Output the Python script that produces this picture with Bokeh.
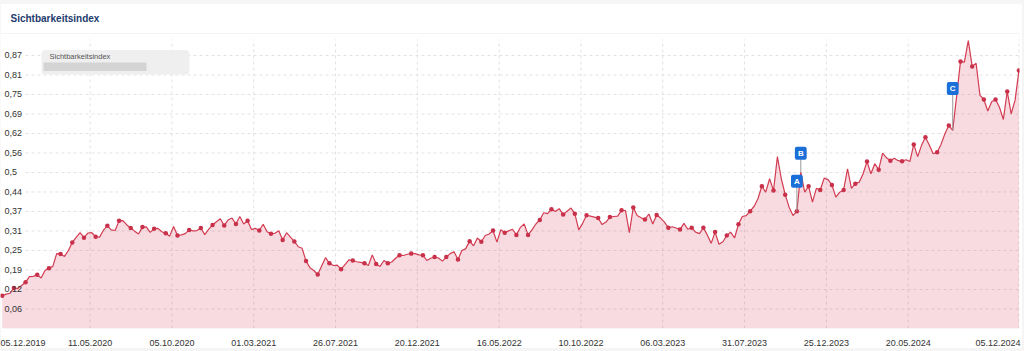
import pandas as pd
from bokeh.plotting import figure
from bokeh.models import Range1d, FixedTicker, ColumnDataSource, Span, BoxAnnotation, Label
from bokeh.layouts import column
from bokeh.core.properties import value
from bokeh.embed import file_html
from bokeh.resources import INLINE

FONT = "Liberation Sans"

# ---------------- data ----------------
title_text = "Sichtbarkeitsindex"
legend_text = "Sichtbarkeitsindex"
first_date = "2019-12-05"
visibility = [
    0.105, 0.110, 0.113, 0.130, 0.128, 0.138, 0.148, 0.166, 0.167, 0.172,
    0.162, 0.186, 0.193, 0.199, 0.240, 0.239, 0.231, 0.250, 0.276, 0.292,
    0.307, 0.291, 0.306, 0.307, 0.294, 0.293, 0.315, 0.329, 0.316, 0.314,
    0.345, 0.346, 0.332, 0.322, 0.312, 0.303, 0.325, 0.326, 0.308, 0.320,
    0.321, 0.310, 0.305, 0.296, 0.327, 0.298, 0.300, 0.304, 0.316, 0.313,
    0.314, 0.322, 0.301, 0.318, 0.332, 0.342, 0.352, 0.330, 0.348, 0.354,
    0.335, 0.359, 0.335, 0.345, 0.317, 0.321, 0.314, 0.334, 0.310, 0.304,
    0.305, 0.313, 0.284, 0.307, 0.293, 0.279, 0.262, 0.257, 0.216, 0.195,
    0.186, 0.173, 0.200, 0.227, 0.209, 0.202, 0.203, 0.190, 0.205, 0.220,
    0.218, 0.214, 0.212, 0.209, 0.202, 0.236, 0.207, 0.199, 0.218, 0.209,
    0.213, 0.225, 0.235, 0.234, 0.238, 0.240, 0.240, 0.236, 0.235, 0.218,
    0.225, 0.229, 0.226, 0.216, 0.229, 0.240, 0.246, 0.221, 0.250, 0.256,
    0.280, 0.265, 0.290, 0.278, 0.298, 0.303, 0.314, 0.277, 0.317, 0.307,
    0.313, 0.318, 0.300, 0.324, 0.335, 0.300, 0.316, 0.335, 0.348, 0.371,
    0.368, 0.382, 0.375, 0.384, 0.365, 0.376, 0.386, 0.368, 0.316, 0.337,
    0.363, 0.360, 0.357, 0.354, 0.333, 0.341, 0.357, 0.359, 0.360, 0.379,
    0.378, 0.307, 0.388, 0.362, 0.355, 0.349, 0.367, 0.335, 0.364, 0.354,
    0.341, 0.323, 0.326, 0.322, 0.317, 0.337, 0.318, 0.323, 0.309, 0.304,
    0.323, 0.300, 0.273, 0.309, 0.270, 0.278, 0.298, 0.309, 0.290, 0.334,
    0.359, 0.362, 0.376, 0.391, 0.416, 0.456, 0.437, 0.480, 0.442, 0.551,
    0.480, 0.429, 0.389, 0.362, 0.376, 0.501, 0.437, 0.456, 0.405, 0.449,
    0.444, 0.482, 0.477, 0.460, 0.421, 0.437, 0.444, 0.512, 0.449, 0.464,
    0.469, 0.496, 0.535, 0.496, 0.528, 0.509, 0.562, 0.547, 0.538, 0.546,
    0.538, 0.536, 0.541, 0.535, 0.590, 0.551, 0.587, 0.613, 0.587, 0.560,
    0.565, 0.590, 0.624, 0.651, 0.635, 0.744, 0.856, 0.854, 0.923, 0.840,
    0.850, 0.747, 0.734, 0.697, 0.727, 0.734, 0.709, 0.670, 0.760, 0.688,
    0.731, 0.827,
]
tick_dates = ["2019-12-05", "2020-05-11", "2020-10-05", "2021-03-01", "2021-07-26",
              "2021-12-20", "2022-05-16", "2022-10-10", "2023-03-06", "2023-07-31",
              "2023-12-25", "2024-05-20", "2024-12-05"]
tick_labels = ["05.12.2019", "11.05.2020", "05.10.2020", "01.03.2021", "26.07.2021",
               "20.12.2021", "16.05.2022", "10.10.2022", "06.03.2023", "31.07.2023",
               "25.12.2023", "20.05.2024", "05.12.2024"]
y_ticks = [0.0625, 0.125, 0.1875, 0.25, 0.3125, 0.375, 0.4375, 0.5,
           0.5625, 0.625, 0.6875, 0.75, 0.8125, 0.875]
y_labels = ["0,06", "0,12", "0,19", "0,25", "0,31", "0,37", "0,44", "0,5",
            "0,56", "0,62", "0,69", "0,75", "0,81", "0,87"]
flag_labels = ["A", "B", "C"]
flag_index = [204, 205, 244]
flag_lift_px = [30, 19, 42]

# ---------------- layout constants ----------------
W, H = 1022, 345
BORDER_TOP, BORDER_BOTTOM, BORDER_RIGHT = 30, 20, 3
FRAME_W = W - BORDER_RIGHT
FRAME_H = H - BORDER_TOP - BORDER_BOTTOM
Y_TOP = 0.9455
PX_PER_UNIT = FRAME_H / Y_TOP

def ms(d):
    return int(pd.Timestamp(d).value // 10**6)

dates = pd.date_range(first_date, periods=len(visibility), freq="7D")
x_start = ms(dates[0] - pd.Timedelta(days=3))
x_end = ms(dates[-1] + pd.Timedelta(days=1))
px_ms = (x_end - x_start) / FRAME_W

src = ColumnDataSource(dict(x=dates, y=visibility))
dots = ColumnDataSource(dict(x=dates[::3], y=visibility[::3]))

p = figure(width=W, height=H, x_axis_type="datetime", y_axis_location=None,
           x_range=Range1d(x_start, x_end), y_range=Range1d(0, Y_TOP),
           output_backend="svg", toolbar_location=None,
           min_border_left=0, min_border_right=BORDER_RIGHT,
           min_border_top=BORDER_TOP, min_border_bottom=BORDER_BOTTOM,
           background_fill_color="white", border_fill_color="white",
           outline_line_color=None)
p.margin = (3, 2, 3, 0)

p.title.text = title_text
p.title.text_font = FONT
p.title.text_font_size = "10px"
p.title.text_font_style = "bold"
p.title.text_color = "#1d3b6d"
p.title.offset = 10
p.title.vertical_align = "top"
p.title.standoff = 16

p.xgrid.visible = False
p.ygrid.visible = False

# grid lines
grid_color = "#e2e2e2"
tick_ms = [ms(d) for d in tick_dates]
gx = tick_ms[1:]
p.segment(x0=gx, x1=gx, y0=[0] * len(gx), y1=[(FRAME_H - 6) / PX_PER_UNIT] * len(gx),
          line_color=grid_color, line_dash="3 3", line_width=1)
hx0 = x_start + 25 * px_ms
p.segment(x0=[hx0] * len(y_ticks), x1=[x_end] * len(y_ticks), y0=y_ticks, y1=y_ticks,
          line_color=grid_color, line_dash="3 3", line_width=1)

# series
p.varea(x="x", y1=0, y2="y", source=src, fill_color="#d83a52", fill_alpha=0.18)
p.line(x="x", y="y", source=src, line_color="#d23c52", line_width=1.2)
p.scatter(x="x", y="y", source=dots, size=4.5, fill_color="#c9304a", line_color=None)

# flags
fx = [dates[i] for i in flag_index]
fy = [visibility[i] for i in flag_index]
fy_top = [v + (l - 6) / PX_PER_UNIT for v, l in zip(fy, flag_lift_px)]
p.segment(x0=fx, x1=fx, y0=fy, y1=fy_top, line_color="#9a9a9a", line_width=1)
fsrc = ColumnDataSource(dict(x=fx, y=fy, t=flag_labels, yo=[-l for l in flag_lift_px]))
p.text(x="x", y="y", text="t", y_offset="yo", source=fsrc, text_align="center",
       text_baseline="middle", text_color="white", text_font=value(FONT),
       text_font_style="bold", text_font_size="8px",
       background_fill_color="#1b6fd8", padding=(3, 2), border_radius=2)

# y labels inside the plot
p.text(x=[x_start] * len(y_ticks), y=y_ticks, text=y_labels, x_offset=4,
       text_align="left", text_baseline="middle", text_color="#333333",
       text_font=value(FONT), text_font_size="9px")

# x axis
last_shift = 21 * px_ms
axis_ticks = tick_ms[:-1] + [int(tick_ms[-1] - last_shift)]
p.xaxis.ticker = FixedTicker(ticks=axis_ticks, minor_ticks=[])
p.xaxis.major_label_overrides = {t: l for t, l in zip(axis_ticks, tick_labels)}
p.xaxis.axis_line_color = None
p.xaxis.major_tick_line_color = None
p.xaxis.minor_tick_line_color = None
p.xaxis.major_label_standoff = 5
p.xaxis.major_label_text_font = FONT
p.xaxis.major_label_text_font_size = "9px"
p.xaxis.major_label_text_color = "#333333"

# separator under the title
p.add_layout(Span(location=Y_TOP, dimension="width", line_color="#ebebeb", line_width=1))

# legend box
p.add_layout(BoxAnnotation(left=41, right=189, top=278.5, bottom=254,
                           left_units="screen", right_units="screen",
                           top_units="screen", bottom_units="screen",
                           fill_color="#efefef", fill_alpha=1, line_color=None,
                           border_radius=4))
p.add_layout(BoxAnnotation(left=43, right=146, top=266, bottom=257.5,
                           left_units="screen", right_units="screen",
                           top_units="screen", bottom_units="screen",
                           fill_color="#d4d4d4", fill_alpha=1, line_color=None))
p.add_layout(Label(x=49, y=272, x_units="screen", y_units="screen", text=legend_text,
                   text_font=FONT, text_font_size="7.5px", text_color="#555555",
                   text_baseline="middle"))

layout = column(p, width=1024, height=351, styles={"background-color": "#f5f5f5"})
open("out.html", "w").write(file_html(layout, INLINE))
